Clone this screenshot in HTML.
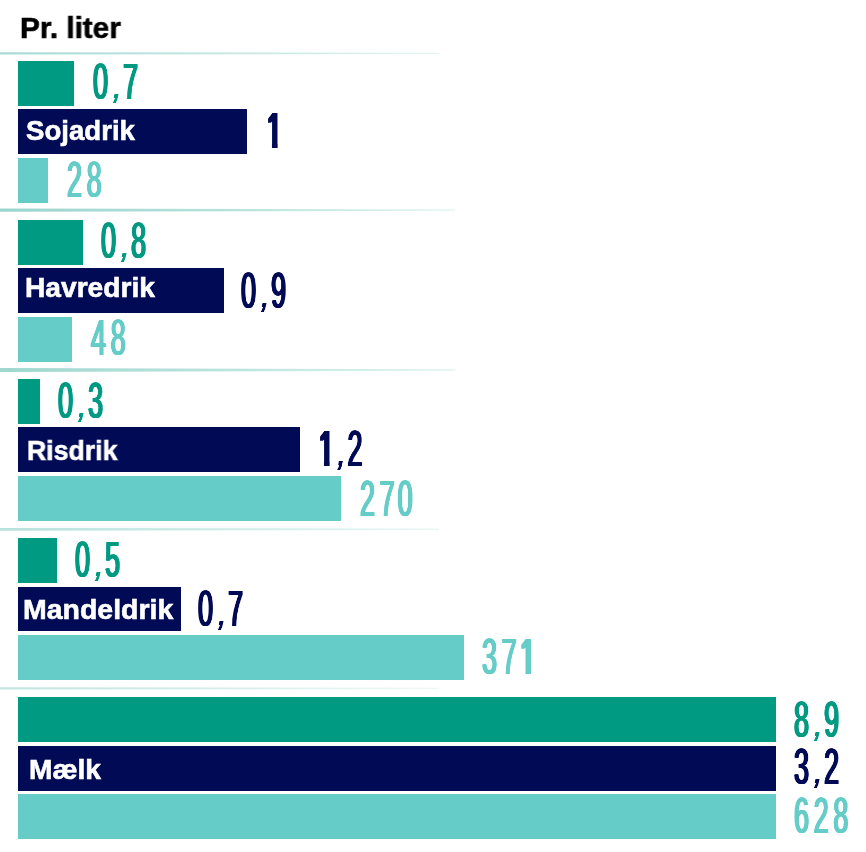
<!DOCTYPE html>
<html lang="da"><head><meta charset="utf-8"><title>Pr. liter</title>
<style>
html,body{margin:0;padding:0;background:#fff;}
body{width:866px;height:852px;position:relative;overflow:hidden;font-family:"Liberation Sans",sans-serif;}
.b{position:absolute;left:18px;height:45px;}
.g{background:#009982}.n{background:#000a55}.l{background:#66ccc8}
.seps{position:absolute;left:0;top:0;}
.t{will-change:transform;position:absolute;white-space:nowrap;line-height:1;transform-origin:0 0;}
.title{font-weight:bold;color:#000;font-size:30px;-webkit-text-stroke:.6px #000;}
.lab{font-weight:bold;color:#fff;font-size:27.5px;-webkit-text-stroke:.6px #fff;}
.num{font-weight:normal;font-size:50.7px;letter-spacing:8.9px;transform:scaleX(0.53);text-shadow:.85px 0 0 currentColor,-.85px 0 0 currentColor,1.7px 0 0 currentColor,-1.7px 0 0 currentColor;}
.num i{font-style:normal;text-shadow:.7px 0 0 currentColor,-.7px 0 0 currentColor,1.3px 0 0 currentColor,-1.3px 0 0 currentColor;letter-spacing:5.6px;display:inline-block;transform:translateY(-.3px) skewX(-20deg) scaleY(.76);transform-origin:50% 37.4px;}
.num b{font-weight:normal;display:inline-block;margin:0 -2.8px 0 -2.15px;clip-path:polygon(-5px -5px,45px -5px,45px 38.1px,19.9px 38.1px,19.9px 60px,10px 60px,10px 38.1px,-5px 38.1px);text-shadow:.75px 0 0 currentColor,-.75px 0 0 currentColor,1.5px 0 0 currentColor,-1.5px 0 0 currentColor,2.2px 0 0 currentColor,-2.2px 0 0 currentColor,2.6px 0 0 currentColor,-2.6px 0 0 currentColor;}
.cg{color:#009982}.cn{color:#000a55}.cl{color:#66ccc8}
</style></head><body>
<div class="t title" id="title" style="left:20px;top:12.5px;transform:scaleX(.992)">Pr. liter</div>
<svg class="seps" width="866" height="852" viewBox="0 0 866 852"><defs><linearGradient id="sg" x1="0" y1="0" x2="1" y2="0"><stop offset="0" stop-color="#9ad5cd"/><stop offset=".45" stop-color="#b2e0d9"/><stop offset="1" stop-color="#e0f3f0"/></linearGradient></defs>
<polygon points="0,52.3 439,52.7 439,54.1 0,54.5" fill="url(#sg)" opacity="0.85"/>
<polygon points="0,208.5 455,209.4 455,210.8 0,211.7" fill="url(#sg)" opacity="1"/>
<polygon points="0,368 455,369.3 455,370.7 0,372" fill="url(#sg)" opacity="0.95"/>
<polygon points="0,527.9 439,528.6 439,530 0,530.7" fill="url(#sg)" opacity="0.7"/>
<polygon points="0,687.2 439,687.7 439,689.1 0,689.6" fill="url(#sg)" opacity="0.6"/>
</svg>
<div class="b g" style="top:61px;width:56px"></div>
<div class="t num cg" id="n00" style="left:92.92px;top:57.4px">0<i>,</i>7</div>
<div class="b n" style="top:109px;width:229px"></div>
<div class="t num cn" id="n01" style="left:268.05px;top:105.9px"><b>1</b></div>
<div class="b l" style="top:158px;width:30px"></div>
<div class="t num cl" id="n02" style="left:67.07px;top:154.85px">28</div>
<div class="t lab" id="lab0" style="left:25.9px;top:116.6px;transform:scaleX(1.004)">Sojadrik</div>
<div class="b g" style="top:220px;width:65px"></div>
<div class="t num cg" id="n10" style="left:101.4px;top:215.9px">0<i>,</i>8</div>
<div class="b n" style="top:268px;width:206px"></div>
<div class="t num cn" id="n11" style="left:240.87px;top:265.6px">0<i>,</i>9</div>
<div class="b l" style="top:317px;width:54px"></div>
<div class="t num cl" id="n12" style="left:90.93px;top:313.2px">48</div>
<div class="t lab" id="lab1" style="left:24.9px;top:273.7px;transform:scaleX(1.024)">Havredrik</div>
<div class="b g" style="top:379px;width:22px"></div>
<div class="t num cg" id="n20" style="left:57.55px;top:375.7px">0<i>,</i>3</div>
<div class="b n" style="top:427px;width:282px"></div>
<div class="t num cn" id="n21" style="left:319.88px;top:424.35px"><b>1</b><i>,</i>2</div>
<div class="b l" style="top:476px;width:323px"></div>
<div class="t num cl" id="n22" style="left:360.13px;top:473.7px">27<span style="margin-left:-3.2px">0</span></div>
<div class="t lab" id="lab2" style="left:26.8px;top:436.5px;transform:scaleX(0.97)">Risdrik</div>
<div class="b g" style="top:538px;width:39px"></div>
<div class="t num cg" id="n30" style="left:75.13px;top:534.55px">0<i>,</i>5</div>
<div class="b n" style="top:587px;width:163px;height:44px"></div>
<div class="t num cn" id="n31" style="left:198.35px;top:583.8px">0<i>,</i>7</div>
<div class="b l" style="top:635px;width:446px"></div>
<div class="t num cl" id="n32" style="left:482.33px;top:631.55px">37<b>1</b></div>
<div class="t lab" id="lab3" style="left:23.4px;top:596.4px;transform:scaleX(1.035)">Mandeldrik</div>
<div class="b g" style="top:697px;width:758px"></div>
<div class="t num cg" id="n40" style="left:793.55px;top:694.5px">8<i>,</i>9</div>
<div class="b n" style="top:746px;width:758px"></div>
<div class="t num cn" id="n41" style="left:793.82px;top:742.1px">3<i>,</i>2</div>
<div class="b l" style="top:794px;width:758px"></div>
<div class="t num cl" id="n42" style="left:793.98px;top:791.15px">628</div>
<div class="t lab" id="lab4" style="left:28.7px;top:755.5px;transform:scaleX(1.022)">Mælk</div>
</body></html>
